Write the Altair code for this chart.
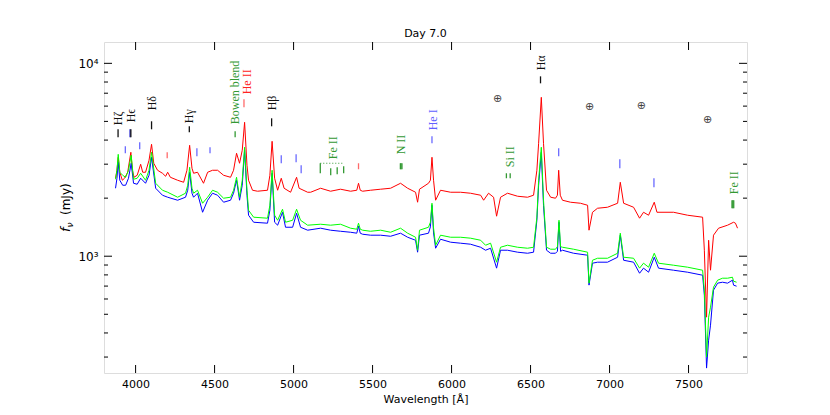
import altair as alt
import pandas as pd

# ---------------- data ----------------
RED_WL = [3873, 3882, 3890, 3900, 3916, 3930, 3950, 3970, 3980, 3990, 4010, 4032, 4045, 4063, 4085, 4101,
          4115, 4139, 4170, 4190, 4203, 4220, 4266, 4304, 4325, 4342, 4357, 4367, 4392, 4430, 4456, 4487,
          4519, 4557, 4601, 4620, 4639, 4658, 4675, 4690, 4705, 4715, 4740, 4772, 4835, 4850, 4864, 4880,
          4899, 4922, 4940, 4981, 5019, 5035, 5089, 5108, 5171, 5234, 5297, 5361, 5400, 5411, 5422, 5437,
          5487, 5551, 5614, 5677, 5722, 5772, 5785, 5797, 5854, 5866, 5876, 5886, 5899, 5930, 5994, 6057,
          6120, 6184, 6203, 6234, 6266, 6285, 6310, 6354, 6418, 6481, 6519, 6540, 6551, 6568, 6582, 6601,
          6627, 6658, 6670, 6678, 6688, 6702, 6753, 6816, 6861, 6870, 6892, 6924, 6987, 7051, 7068, 7089,
          7152, 7190, 7215, 7247, 7283, 7300, 7405, 7494, 7589, 7600, 7614, 7627, 7639, 7658, 7690, 7747,
          7785, 7797, 7810]
RED_FLUX = [2536, 2790, 3258, 2724, 2476, 2536, 2724, 3458, 2790, 2566, 2628, 2997, 2724, 2724, 3143, 3804,
            3033, 2790, 2692, 2597, 2724, 2566, 2476, 2417, 2790, 3758, 2857, 2692, 2724, 2389, 2724, 2790,
            2790, 2628, 2566, 2790, 3418, 3033, 3542, 4946, 2962, 2476, 2198, 2172, 2198, 2628, 3942, 2536,
            2198, 2536, 2251, 2146, 2566, 2251, 2146, 2146, 2251, 2172, 2225, 2172, 2198, 2389, 2198, 2172,
            2198, 2225, 2251, 2389, 2251, 2146, 1905, 2225, 2389, 2476, 3258, 2476, 1951, 2198, 2146, 2146,
            2121, 2071, 1951, 2121, 2022, 1612, 2022, 2121, 2046, 2022, 2071, 2790, 3850, 6665, 3850, 2198,
            2022, 1998, 2071, 2790, 2071, 1951, 1905, 1882, 1837, 1364, 1690, 1773, 1794, 1882, 2417, 1882,
            1794, 1574, 1690, 1631, 1905, 1690, 1690, 1631, 1593, 1074, 483, 1210, 846, 1285, 1397, 1448,
            1500, 1483, 1397]

GB_WL = [3873, 3882, 3890, 3900, 3918, 3937, 3955, 3972, 3987, 4010, 4032, 4063, 4085, 4101, 4127, 4170,
         4203, 4266, 4316, 4330, 4342, 4357, 4367, 4392, 4424, 4456, 4487, 4519, 4557, 4601, 4620, 4639,
         4658, 4675, 4690, 4705, 4715, 4747, 4835, 4850, 4864, 4880, 4899, 4930, 4949, 4994, 5019, 5044,
         5089, 5171, 5234, 5297, 5361, 5400, 5411, 5422, 5437, 5487, 5551, 5614, 5677, 5722, 5772, 5785,
         5797, 5854, 5866, 5876, 5886, 5899, 5930, 5994, 6057, 6120, 6184, 6215, 6247, 6285, 6310, 6354,
         6418, 6481, 6519, 6540, 6551, 6568, 6582, 6601, 6627, 6658, 6670, 6680, 6690, 6702, 6772, 6861,
         6870, 6892, 6924, 6987, 7051, 7068, 7089, 7152, 7190, 7215, 7247, 7283, 7310, 7405, 7494, 7589,
         7600, 7614, 7627, 7639, 7658, 7684, 7715, 7747, 7778, 7785, 7804]
GREEN_FLUX = [2506, 2790, 3374, 2724, 2628, 2566, 2790, 3338, 2506, 2536, 2692, 2476, 2790, 3458, 2389, 2198,
              2146, 2022, 2121, 2333, 2892, 2251, 2121, 2198, 1882, 2022, 2198, 2146, 1998, 2022, 2198, 2566,
              2022, 2476, 3671, 2198, 1731, 1593, 1574, 1837, 2790, 1631, 1536, 1752, 1500, 1536, 1752, 1536,
              1448, 1465, 1448, 1465, 1397, 1380, 1483, 1380, 1364, 1347, 1364, 1331, 1397, 1316, 1254, 1074,
              1364, 1413, 1500, 1882, 1400, 1140, 1285, 1254, 1254, 1240, 1210, 1140, 1168, 931, 1113, 1140,
              1113, 1100, 1113, 1593, 2476, 3671, 1951, 1113, 1087, 1087, 1120, 1536, 1120, 1113, 1087, 1049,
              725, 953, 976, 976, 1036, 1316, 988, 976, 867, 920, 877, 1036, 920, 898, 877, 846,
              667, 300, 483, 544, 691, 751, 769, 769, 778, 742, 733]
BLUE_FLUX = [2251, 2536, 3069, 2476, 2333, 2333, 2536, 3033, 2389, 2361, 2536, 2389, 2628, 3258, 2251, 2071,
             2022, 1951, 2022, 2198, 2724, 2121, 2022, 2121, 1690, 1951, 2121, 2071, 1905, 1951, 2121, 2476,
             1951, 2333, 3542, 2071, 1631, 1500, 1483, 1731, 2692, 1500, 1448, 1690, 1413, 1413, 1670, 1413,
             1364, 1397, 1364, 1347, 1331, 1316, 1430, 1316, 1300, 1285, 1285, 1269, 1316, 1254, 1210, 1049,
             1285, 1316, 1420, 1837, 1320, 1100, 1225, 1182, 1168, 1154, 1113, 1074, 1100, 867, 1074, 1074,
             1049, 1036, 1049, 1536, 2333, 3458, 1837, 1074, 1036, 1036, 1060, 1500, 1060, 1074, 1036, 1012,
             708, 920, 931, 931, 988, 1285, 953, 931, 816, 867, 826, 988, 867, 846, 826, 797,
             628, 263, 367, 439, 667, 725, 733, 725, 751, 708, 699]

# line-identification ticks: wavelength, top flux, bottom flux, colour
TICK_WL = [3889, 3965, 3970, 4101, 4340, 4630, 4686, 4861, 3935, 4026, 4200, 4388, 4471, 4922, 5016, 5048,
           5169, 5235, 5276, 5317, 5411, 5676, 5680, 5686, 5876, 6347, 6371, 6563, 6678, 7065, 7281,
           7775, 7780, 7786]
TICK_TOP = [4550, 4550, 4550, 5006, 4716, 4443, 6509, 5188, 3715, 3896, 3458, 3628, 3671, 3338, 3374, 2962,
            3033, 2858, 2892, 2926, 3033, 3033, 3033, 3033, 4187, 2692, 2692, 8561, 3628, 3182, 2536,
            1951, 1951, 1951]
TICK_BOT = [4137, 4137, 4137, 4550, 4390, 4137, 5916, 4716, 3418, 3584, 3219, 3298, 3418, 3033, 3069, 2692,
            2692, 2628, 2660, 2692, 2824, 2824, 2824, 2824, 3850, 2536, 2536, 7877, 3298, 2858, 2278,
            1773, 1773, 1773]
K, B, R, G = "#111111", "#6a6aff", "#ff6a6a", "#339933"
TICK_COLOR = [K, "#2222cc", K, K, K, G, R, K, B, B, R, B, B, B, B, B,
              G, G, G, G, R, G, G, G, B, G, G, K, B, B, B,
              G, G, G]

LABEL_WL = [3889, 3970, 4101, 4340, 4630, 4703, 4861, 5247, 5683, 5880, 6367, 6563, 7785]
LABEL_BASE = [4773, 4946, 5707, 4888, 4830, 6908, 5707, 3182, 3374, 4496, 2892, 9199, 2096]
LABEL_TEXT = ["Hζ", "Hϵ", "Hδ", "Hγ", "Bowen blend", "He II", "Hβ", "Fe II", "N II", "He I", "Si II",
              "Hα", "Fe II"]
LABEL_COLOR = [K, K, K, K, G, "#ff2222", K, G, G, "#6060ff", G, K, G]

EARTH_WL = [6291, 6873, 7202, 7620]
EARTH_FLUX = [6509, 5916, 5987, 5066]

FEII_BAR_X = [5169]
FEII_BAR_X2 = [5317]
FEII_BAR_Y = [3033]

X_TICKS = [4000, 4500, 5000, 5500, 6000, 6500, 7000, 7500]
Y_MAJOR = [1000, 10000]
Y_MINOR = [300, 400, 500, 600, 700, 800, 900, 2000, 3000, 4000, 5000, 6000, 7000, 8000, 9000]

# ---------------- chart ----------------
W, H = 643, 331
xs = alt.Scale(domain=[3800, 7870], nice=False, zero=False)
ys = alt.Scale(type="log", domain=[248, 12900], nice=False)
X_AX = alt.Axis(values=X_TICKS, format="d", ticks=False, domain=False, grid=False, labelPadding=5,
                labelFont="DejaVu Sans", labelFontSize=11, labelColor="black", title="Wavelength [Å]",
                titleFont="DejaVu Sans", titleFontSize=11, titleFontWeight="normal", titleColor="black",
                titlePadding=4)
Y_AX = alt.Axis(values=Y_MAJOR, labelExpr="datum.value >= 10000 ? '10⁴' : '10³'", ticks=False,
                domain=False, grid=False, labelPadding=6, labelFont="DejaVu Sans", labelFontSize=12,
                labelColor="black", title=None)


def xe(field):
    return alt.X(field, type="quantitative", scale=xs, axis=X_AX)


def ye(field):
    return alt.Y(field, type="quantitative", scale=ys, axis=Y_AX)


red_df = pd.DataFrame({"wl": RED_WL, "f": RED_FLUX})
gb_df = pd.DataFrame({"wl": GB_WL, "g": GREEN_FLUX, "b": BLUE_FLUX})

red = alt.Chart(red_df).mark_line(color="#ff0000", strokeWidth=1, clip=True).encode(x=xe("wl"), y=ye("f"))
blue = alt.Chart(gb_df).mark_line(color="#0000ff", strokeWidth=1, clip=True).encode(x=xe("wl"), y=ye("b"))
green = alt.Chart(gb_df).mark_line(color="#00ff00", strokeWidth=1, clip=True).encode(x=xe("wl"), y=ye("g"))

tick_df = pd.DataFrame({"wl": TICK_WL, "t": TICK_TOP, "b": TICK_BOT, "c": TICK_COLOR})
ticks = alt.Chart(tick_df).mark_rule(strokeWidth=1.3).encode(
    x=xe("wl"), y=ye("t"), y2="b", color=alt.Color("c:N", scale=None))

lab_df = pd.DataFrame({"wl": LABEL_WL, "y": LABEL_BASE, "txt": LABEL_TEXT, "c": LABEL_COLOR})
labels = alt.Chart(lab_df).mark_text(angle=270, align="left", baseline="middle",
                                     font="Liberation Serif", fontSize=12).encode(
    x=xe("wl"), y=ye("y"), text="txt:N", color=alt.Color("c:N", scale=None))

earth_df = pd.DataFrame({"wl": EARTH_WL, "y": EARTH_FLUX})
earth = alt.Chart(earth_df).mark_text(text="⊕", font="DejaVu Sans", fontSize=11, color="#444444",
                                      baseline="middle").encode(x=xe("wl"), y=ye("y"))

bar_df = pd.DataFrame({"x1": FEII_BAR_X, "x2": FEII_BAR_X2, "y": FEII_BAR_Y})
feii_bar = alt.Chart(bar_df).mark_rule(color=G, strokeDash=[1, 2], strokeWidth=1).encode(
    x=xe("x1"), x2="x2", y=ye("y"))

# inward axis ticks (matplotlib classic style)
xt_df = pd.DataFrame({"v": X_TICKS})
xt_bot = alt.Chart(xt_df).mark_rule(color="black").encode(x=xe("v"), y=alt.value(H), y2=alt.value(H - 8))
xt_top = alt.Chart(xt_df).mark_rule(color="black").encode(x=xe("v"), y=alt.value(0), y2=alt.value(8))
ymaj_df = pd.DataFrame({"v": Y_MAJOR})
ymin_df = pd.DataFrame({"v": Y_MINOR})
ymaj_l = alt.Chart(ymaj_df).mark_rule(color="black").encode(y=ye("v"), x=alt.value(0), x2=alt.value(8))
ymaj_r = alt.Chart(ymaj_df).mark_rule(color="black").encode(y=ye("v"), x=alt.value(W), x2=alt.value(W - 8))
ymin_l = alt.Chart(ymin_df).mark_rule(color="black").encode(y=ye("v"), x=alt.value(0), x2=alt.value(4))
ymin_r = alt.Chart(ymin_df).mark_rule(color="black").encode(y=ye("v"), x=alt.value(W), x2=alt.value(W - 4))

# y-axis title  f_nu (mJy)
one = pd.DataFrame({"a": [0]})
yt_f = alt.Chart(one).mark_text(text="f", angle=270, align="left", baseline="middle", font="DejaVu Sans",
                                fontStyle="italic", fontSize=13, color="black").encode(
    x=alt.value(-38), y=alt.value(190))
yt_nu = alt.Chart(one).mark_text(text="ν", angle=270, align="left", baseline="middle", font="DejaVu Sans",
                                 fontStyle="italic", fontSize=9, color="black").encode(
    x=alt.value(-34), y=alt.value(185.5))
yt_mjy = alt.Chart(one).mark_text(text="(mJy)", angle=270, align="left", baseline="middle",
                                  font="DejaVu Sans", fontSize=12, color="black").encode(
    x=alt.value(-38), y=alt.value(173))

chart = alt.layer(
    red, blue, green, ticks, feii_bar, labels, earth,
    xt_bot, xt_top, ymaj_l, ymaj_r, ymin_l, ymin_r, yt_f, yt_nu, yt_mjy
).properties(
    width=W, height=H,
    title=alt.Title("Day 7.0", font="DejaVu Sans", fontSize=11, fontWeight="normal", color="black", offset=3),
    autosize=alt.AutoSizeParams(type="none"),
    padding={"left": 96, "top": 34, "right": 20, "bottom": 32},
).configure_view(stroke="black", strokeWidth=1).configure(background="white")

chart.save("out.html", embed_options={"renderer": "svg", "actions": False})
